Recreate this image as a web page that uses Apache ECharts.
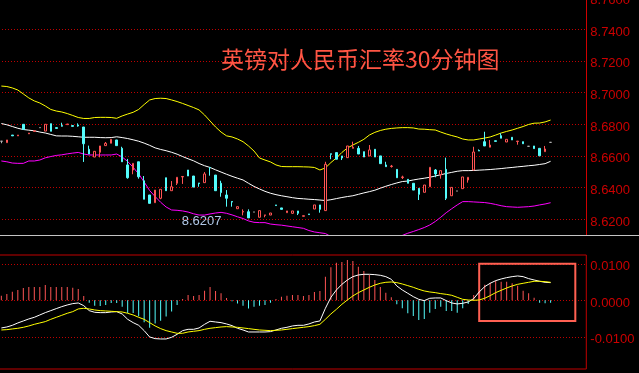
<!DOCTYPE html>
<html><head><meta charset="utf-8">
<script src="https://cdn.jsdelivr.net/npm/echarts@6/dist/echarts.min.js"></script>
<style>html,body{margin:0;padding:0;background:#000;}#c{width:639px;height:373px;}</style>
</head><body><div id="c"></div>
<script>
const chartTitle = '英镑对人民币汇率30分钟图';
const priceTicks = [8.62, 8.64, 8.66, 8.68, 8.70, 8.72, 8.74, 8.76];
const macdTicks = [-0.01, 0, 0.01];

const open = [8.6692,8.6683,8.6731,8.6726,8.6799,8.6739,8.6754,8.6778,8.6756,8.6803,
8.6778,8.6791,8.6797,8.6791,8.6795,8.6782,8.6641,8.6592,8.6622,8.6664,
8.6679,8.6700,8.6647,8.6542,8.6510,8.6562,8.6442,8.6352,8.6303,8.6331,
8.6461,8.6379,8.6426,8.6466,8.6510,8.6472,8.6428,8.6430,8.6526,8.6478,
8.6426,8.6352,8.6311,8.6265,8.6244,8.6246,8.6244,8.6211,8.6223,8.6225,
8.6289,8.6270,8.6240,8.6236,8.6251,8.6217,8.6232,8.6263,8.6289,8.6253,
8.6613,8.6620,8.6599,8.6588,8.6647,8.6647,8.6626,8.6599,8.6641,8.6599,
8.6542,8.6532,8.6514,8.6462,8.6451,8.6426,8.6394,8.6369,8.6404,8.6510,
8.6480,8.6514,8.6347,8.6377,8.6392,8.6447,8.6510,8.6633,8.6689,8.6654,
8.6695,8.6727,8.6687,8.6717,8.6690,8.6689,8.6660,8.6662,8.6647,8.6626,
8.6685];
const close = [8.6692,8.6700,8.6726,8.6731,8.6767,8.6744,8.6758,8.6778,8.6799,8.6755,
8.6773,8.6787,8.6801,8.6786,8.6788,8.6676,8.6611,8.6628,8.6662,8.6679,
8.6704,8.6664,8.6562,8.6461,8.6552,8.6467,8.6325,8.6299,8.6383,8.6388,
8.6379,8.6404,8.6464,8.6469,8.6472,8.6402,8.6424,8.6485,8.6523,8.6379,
8.6367,8.6331,8.6307,8.6278,8.6248,8.6207,8.6244,8.6253,8.6226,8.6238,
8.6285,8.6261,8.6251,8.6251,8.6236,8.6221,8.6228,8.6289,8.6261,8.6546,
8.6609,8.6578,8.6586,8.6662,8.6654,8.6611,8.6592,8.6637,8.6592,8.6550,
8.6531,8.6535,8.6461,8.6466,8.6426,8.6383,8.6356,8.6415,8.6527,8.6485,
8.6506,8.6331,8.6400,8.6377,8.6466,8.6464,8.6624,8.6630,8.6662,8.6668,
8.6691,8.6711,8.6704,8.6700,8.6693,8.6676,8.6660,8.6645,8.6600,8.6643,
8.6685];
const low = [8.6679,8.6683,8.6726,8.6726,8.6767,8.6739,8.6754,8.6778,8.6756,8.6755,
8.6773,8.6785,8.6797,8.6786,8.6784,8.6561,8.6611,8.6592,8.6590,8.6664,
8.6679,8.6664,8.6562,8.6455,8.6483,8.6455,8.6325,8.6299,8.6303,8.6325,
8.6379,8.6379,8.6415,8.6422,8.6472,8.6402,8.6404,8.6430,8.6474,8.6379,
8.6341,8.6278,8.6278,8.6265,8.6223,8.6207,8.6244,8.6211,8.6211,8.6225,
8.6285,8.6261,8.6240,8.6232,8.6225,8.6217,8.6228,8.6263,8.6240,8.6253,
8.6578,8.6578,8.6573,8.6588,8.6647,8.6611,8.6592,8.6599,8.6592,8.6550,
8.6531,8.6525,8.6461,8.6453,8.6426,8.6383,8.6320,8.6369,8.6404,8.6464,
8.6455,8.6320,8.6347,8.6377,8.6392,8.6430,8.6510,8.6630,8.6662,8.6654,
8.6691,8.6711,8.6687,8.6700,8.6670,8.6676,8.6660,8.6645,8.6600,8.6626,
8.6685];
const high = [8.6692,8.6700,8.6731,8.6731,8.6799,8.6744,8.6758,8.6778,8.6799,8.6803,
8.6778,8.6809,8.6801,8.6791,8.6805,8.6782,8.6664,8.6628,8.6662,8.6687,
8.6704,8.6700,8.6657,8.6580,8.6552,8.6562,8.6472,8.6352,8.6383,8.6388,
8.6461,8.6440,8.6464,8.6470,8.6510,8.6472,8.6428,8.6497,8.6526,8.6478,
8.6442,8.6383,8.6311,8.6278,8.6261,8.6261,8.6244,8.6253,8.6226,8.6238,
8.6289,8.6270,8.6251,8.6251,8.6251,8.6221,8.6232,8.6289,8.6289,8.6562,
8.6613,8.6620,8.6599,8.6662,8.6689,8.6662,8.6626,8.6668,8.6641,8.6599,
8.6562,8.6542,8.6514,8.6474,8.6451,8.6426,8.6394,8.6415,8.6527,8.6516,
8.6506,8.6588,8.6400,8.6377,8.6466,8.6464,8.6657,8.6640,8.6752,8.6700,
8.6695,8.6742,8.6704,8.6717,8.6693,8.6689,8.6660,8.6662,8.6647,8.6662,
8.6685];

const bollUpper = [8.7041,8.7038,8.7029,8.7016,8.6991,8.6966,8.6947,8.6934,8.6915,8.6893,
8.6883,8.6877,8.6867,8.6855,8.6842,8.6836,8.6836,8.6842,8.6843,8.6843,
8.6842,8.6837,8.6852,8.6864,8.6875,8.6893,8.6924,8.6953,8.6962,8.6964,
8.6962,8.6953,8.6943,8.6931,8.6918,8.6905,8.6890,8.6858,8.6820,8.6782,
8.6750,8.6726,8.6719,8.6706,8.6689,8.6662,8.6630,8.6586,8.6573,8.6561,
8.6542,8.6532,8.6531,8.6531,8.6531,8.6530,8.6529,8.6526,8.6510,8.6523,
8.6557,8.6586,8.6621,8.6649,8.6668,8.6685,8.6704,8.6731,8.6748,8.6760,
8.6768,8.6773,8.6776,8.6778,8.6778,8.6776,8.6769,8.6768,8.6765,8.6763,
8.6750,8.6738,8.6728,8.6719,8.6706,8.6700,8.6700,8.6706,8.6712,8.6719,
8.6731,8.6744,8.6754,8.6763,8.6774,8.6785,8.6798,8.6806,8.6807,8.6814,
8.6826];
const bollMid = [8.6804,8.6796,8.6785,8.6774,8.6766,8.6762,8.6758,8.6750,8.6744,8.6735,
8.6726,8.6725,8.6725,8.6723,8.6720,8.6717,8.6717,8.6717,8.6715,8.6714,
8.6715,8.6720,8.6715,8.6709,8.6701,8.6692,8.6680,8.6666,8.6650,8.6640,
8.6632,8.6622,8.6610,8.6595,8.6581,8.6568,8.6551,8.6537,8.6526,8.6511,
8.6497,8.6483,8.6470,8.6458,8.6447,8.6426,8.6406,8.6390,8.6375,8.6363,
8.6354,8.6347,8.6341,8.6335,8.6330,8.6328,8.6325,8.6323,8.6320,8.6317,
8.6322,8.6329,8.6336,8.6342,8.6347,8.6356,8.6365,8.6373,8.6382,8.6395,
8.6407,8.6418,8.6428,8.6437,8.6440,8.6447,8.6453,8.6458,8.6464,8.6472,
8.6480,8.6488,8.6495,8.6502,8.6506,8.6506,8.6507,8.6509,8.6511,8.6513,
8.6516,8.6519,8.6523,8.6526,8.6530,8.6533,8.6537,8.6540,8.6545,8.6550,
8.6565];
const bollLower = [8.6567,8.6562,8.6554,8.6552,8.6552,8.6567,8.6567,8.6573,8.6587,8.6595,
8.6602,8.6606,8.6612,8.6617,8.6621,8.6611,8.6605,8.6605,8.6605,8.6605,
8.6605,8.6611,8.6592,8.6564,8.6527,8.6485,8.6434,8.6380,8.6342,8.6306,
8.6276,8.6257,8.6255,8.6251,8.6244,8.6233,8.6225,8.6225,8.6232,8.6238,
8.6242,8.6236,8.6226,8.6214,8.6203,8.6188,8.6179,8.6177,8.6177,8.6168,
8.6164,8.6161,8.6156,8.6151,8.6146,8.6141,8.6127,8.6118,8.6113,8.6108,
8.6089,8.6072,8.6051,8.6034,8.6027,8.6026,8.6025,8.6015,8.6016,8.6030,
8.6046,8.6064,8.6080,8.6096,8.6110,8.6121,8.6133,8.6146,8.6162,8.6184,
8.6211,8.6240,8.6265,8.6289,8.6310,8.6310,8.6308,8.6306,8.6304,8.6299,
8.6292,8.6284,8.6278,8.6276,8.6274,8.6276,8.6278,8.6282,8.6289,8.6295,
8.6303];

const dif = [-0.00758,-0.00731,-0.00685,-0.00621,-0.00566,-0.00511,-0.00466,-0.00402,-0.00338,-0.00283,
-0.00228,-0.00174,-0.00128,-0.00091,-0.00073,-0.00146,-0.00283,-0.00329,-0.00338,-0.00338,
-0.00320,-0.00311,-0.00374,-0.00521,-0.00612,-0.00685,-0.00831,-0.01005,-0.01050,-0.01059,
-0.01059,-0.01014,-0.00932,-0.00831,-0.00795,-0.00795,-0.00758,-0.00658,-0.00575,-0.00594,
-0.00612,-0.00648,-0.00694,-0.00767,-0.00813,-0.00868,-0.00868,-0.00868,-0.00868,-0.00858,
-0.00813,-0.00767,-0.00740,-0.00703,-0.00685,-0.00685,-0.00648,-0.00594,-0.00566,-0.00219,
0.00082,0.00283,0.00438,0.00557,0.00648,0.00694,0.00712,0.00712,0.00703,0.00685,
0.00648,0.00575,0.00393,0.00283,0.00192,0.00100,0.00027,-0.00009,0.00055,0.00064,
0.00064,-0.00009,-0.00073,-0.00100,-0.00082,-0.00046,0.00046,0.00228,0.00374,0.00466,
0.00539,0.00584,0.00621,0.00648,0.00667,0.00648,0.00594,0.00557,0.00521,0.00493,
0.00484];
const dea = [-0.00813,-0.00804,-0.00785,-0.00767,-0.00740,-0.00703,-0.00658,-0.00621,-0.00584,-0.00521,
-0.00466,-0.00411,-0.00356,-0.00311,-0.00237,-0.00219,-0.00237,-0.00265,-0.00283,-0.00292,
-0.00301,-0.00311,-0.00320,-0.00356,-0.00402,-0.00466,-0.00521,-0.00612,-0.00703,-0.00776,
-0.00831,-0.00868,-0.00904,-0.00904,-0.00868,-0.00849,-0.00831,-0.00795,-0.00767,-0.00749,
-0.00731,-0.00721,-0.00731,-0.00740,-0.00758,-0.00776,-0.00795,-0.00813,-0.00822,-0.00831,
-0.00822,-0.00813,-0.00795,-0.00776,-0.00758,-0.00740,-0.00721,-0.00694,-0.00658,-0.00521,
-0.00374,-0.00247,-0.00110,0.00009,0.00119,0.00210,0.00283,0.00356,0.00420,0.00466,
0.00493,0.00502,0.00484,0.00447,0.00402,0.00356,0.00301,0.00256,0.00228,0.00210,
0.00183,0.00164,0.00137,0.00082,0.00027,0.00009,0.00000,0.00009,0.00055,0.00128,
0.00210,0.00274,0.00338,0.00393,0.00438,0.00466,0.00493,0.00521,0.00521,0.00511,
0.00493];
const macdHist = [0.00128,0.00174,0.00237,0.00283,0.00338,0.00365,0.00365,0.00365,0.00420,0.00365,
0.00365,0.00365,0.00365,0.00347,0.00310,0.00119,-0.00064,-0.00146,-0.00155,-0.00128,
-0.00073,-0.00073,-0.00174,-0.00347,-0.00347,-0.00438,-0.00603,-0.00749,-0.00639,-0.00557,
-0.00447,-0.00310,-0.00128,0.00037,0.00146,0.00119,0.00146,0.00265,0.00365,0.00256,
0.00192,0.00064,-0.00027,-0.00091,-0.00146,-0.00228,-0.00174,-0.00146,-0.00128,-0.00064,
0.00037,0.00100,0.00128,0.00146,0.00146,0.00119,0.00146,0.00228,0.00256,0.00648,
0.00904,0.01032,0.01050,0.01105,0.01078,0.00922,0.00804,0.00694,0.00557,0.00365,
0.00210,0.00082,-0.00110,-0.00219,-0.00356,-0.00429,-0.00539,-0.00511,-0.00338,-0.00237,
-0.00174,-0.00292,-0.00292,-0.00338,-0.00219,-0.00100,0.00146,0.00265,0.00429,0.00484,
0.00539,0.00511,0.00511,0.00466,0.00402,0.00265,0.00192,0.00073,-0.00064,-0.00082,
-0.00064];

// annotation box in MACD pane (category index range and value range)
const boxFrom = ['87', 0.01];
const boxTo = ['104', -0.0057];

const slotCount = 107;
const xCats = Array.from({length: slotCount}, (_, i) => String(i));

const RED = '#ff5454', CYAN = '#54fcfc', GREY = '#b4b4b4';
const AXIS = '#d00000', LABEL = '#cc0000', DOT = '#c00000';

const candleData = open.map((o, i) => {
  const v = [o, close[i], low[i], high[i]];
  if (o === close[i]) {
    return {value: v, itemStyle: {color: GREY, color0: GREY, borderColor: GREY, borderColor0: GREY, borderColorDoji: GREY}};
  }
  return v;
});

const chart = echarts.init(document.getElementById('c'), null, {renderer: 'canvas'});
const labelBase = {fontSize: 13, fontFamily: 'Liberation Sans, Arial, sans-serif', color: LABEL, margin: 4,
  verticalAlign: 'top', lineHeight: 6,
  verticalAlignMinLabel: 'top', verticalAlignMaxLabel: 'top'};
const dotted = {show: true, lineStyle: {color: DOT, type: [1, 2], dashOffset: 2.6, width: 1}};

chart.setOption({
  backgroundColor: '#000000',
  animation: false,
  title: {
    text: chartTitle, left: 221, top: 48, padding: 0,
    textStyle: {color: '#ff5544', fontSize: 23, fontWeight: 'normal', fontFamily: 'Noto Sans CJK SC'}
  },
  grid: [
    {left: -1.4, right: 52.7, top: -2.32, height: 237.32, outerBoundsMode: 'none', containLabel: false},
    {left: -1.4, right: 52.7, top: 255, height: 114, outerBoundsMode: 'none', containLabel: false,
      show: true, borderColor: '#c00000', borderWidth: 1, backgroundColor: 'transparent'}
  ],
  xAxis: [
    {gridIndex: 0, type: 'category', data: xCats, boundaryGap: true, show: false},
    {gridIndex: 1, type: 'category', data: xCats, boundaryGap: true, show: false}
  ],
  yAxis: [
    {gridIndex: 0, type: 'value', position: 'right', min: 8.60988, max: 8.76, splitNumber: 7,
      axisLine: {show: true, lineStyle: {color: AXIS, width: 1}},
      axisTick: {show: false, customValues: priceTicks},
      splitLine: dotted,
      axisLabel: Object.assign({customValues: priceTicks, formatter: v => v.toFixed(4)}, labelBase)},
    {gridIndex: 1, type: 'value', position: 'right', min: -0.018822, max: 0.012411, splitNumber: 3,
      axisLine: {show: false},
      axisTick: {show: false, customValues: macdTicks},
      splitLine: dotted,
      axisLabel: Object.assign({customValues: macdTicks, formatter: v => v.toFixed(4)}, labelBase)}
  ],
  graphic: [
    {type: 'line', shape: {x1: 0, y1: 235.5, x2: 639, y2: 235.5}, style: {stroke: '#c4c4c4', lineWidth: 1}, silent: true, z: 10}
  ],
  series: [
    {name: 'UPPER', type: 'line', xAxisIndex: 0, yAxisIndex: 0, data: bollUpper, symbol: 'none', silent: true,
      lineStyle: {color: '#ffff00', width: 1}, z: 3},
    {name: 'MID', type: 'line', xAxisIndex: 0, yAxisIndex: 0, data: bollMid, symbol: 'none', silent: true,
      lineStyle: {color: '#ffffff', width: 1}, z: 3},
    {name: 'LOWER', type: 'line', xAxisIndex: 0, yAxisIndex: 0, data: bollLower, symbol: 'none', silent: true,
      lineStyle: {color: '#ff00ff', width: 1}, z: 3},
    {name: 'K', type: 'candlestick', xAxisIndex: 0, yAxisIndex: 0, data: candleData, barWidth: 2, z: 4,
      itemStyle: {color: '#000000', color0: CYAN, borderColor: RED, borderColor0: CYAN, borderColorDoji: GREY, borderWidth: 1},
      markPoint: {symbol: 'circle', symbolSize: 0, silent: true, animation: false,
        data: [{type: 'min', valueDim: 'lowest'}],
        label: {show: true, position: 'inside', formatter: p => Number(p.value).toFixed(4), color: '#b0c8e8',
          fontSize: 13, fontFamily: 'Liberation Sans, Arial, sans-serif', align: 'right', verticalAlign: 'middle', offset: [-27, 4]}}},
    {name: 'MACD', type: 'bar', xAxisIndex: 1, yAxisIndex: 1, data: macdHist, barWidth: 1, silent: true, z: 3,
      itemStyle: {color: p => (p.value >= 0 ? RED : CYAN)},
      markArea: {silent: true,
        itemStyle: {color: 'rgba(0,0,0,0)', borderColor: '#ff6052', borderWidth: 2},
        data: [[{xAxis: boxFrom[0], yAxis: boxFrom[1]}, {xAxis: boxTo[0], yAxis: boxTo[1]}]]}},
    {name: 'DIF', type: 'line', xAxisIndex: 1, yAxisIndex: 1, data: dif, symbol: 'none', silent: true,
      lineStyle: {color: '#ffffff', width: 1}, z: 4},
    {name: 'DEA', type: 'line', xAxisIndex: 1, yAxisIndex: 1, data: dea, symbol: 'none', silent: true,
      lineStyle: {color: '#ffff00', width: 1}, z: 4}
  ]
});
</script>
</body></html>
